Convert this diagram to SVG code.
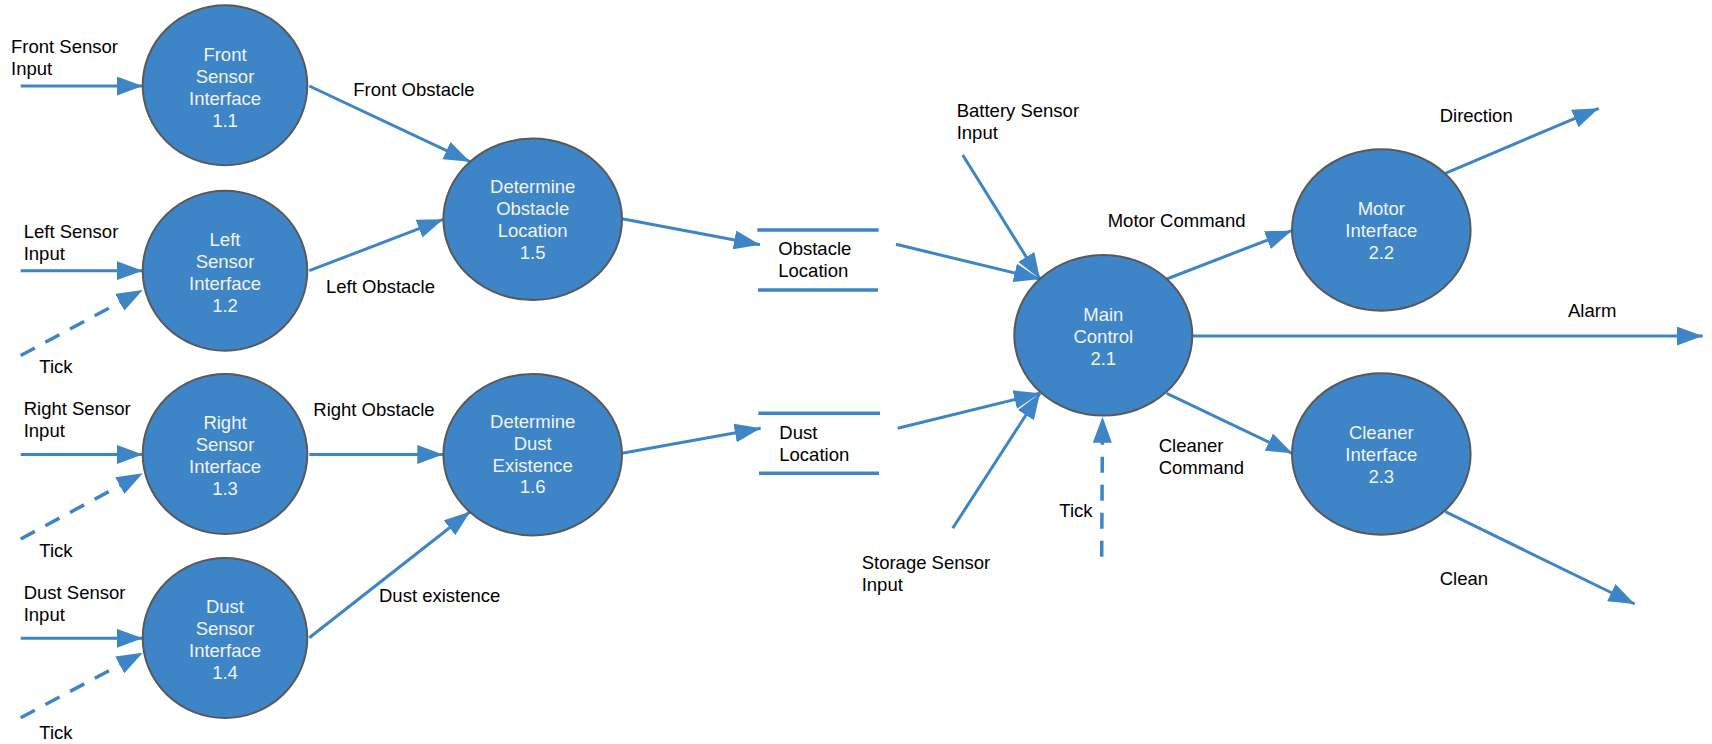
<svg xmlns="http://www.w3.org/2000/svg" width="1712" height="744" viewBox="0 0 1712 744">
<style>
.bubble{fill:#3d85c6;stroke:#595959;stroke-width:2}
.nt{fill:#f3f3f3;font-family:"Liberation Sans",Arial,sans-serif;font-size:18.5px;text-anchor:middle}
.lb{fill:#000;font-family:"Liberation Sans",Arial,sans-serif;font-size:18.5px}
.flow{fill:none;stroke:#3d85c6;stroke-width:3;marker-end:url(#ah)}
.dash{stroke-width:3.5;stroke-dasharray:16 12}
.store{stroke:#3d85c6;stroke-width:3.5}
</style>
<defs>
<marker id="ah" markerUnits="userSpaceOnUse" markerWidth="26" markerHeight="19" refX="26" refY="9.5" orient="auto">
<path d="M0,0 L26,9.5 L0,19 Z" fill="#3d85c6"/>
</marker>
</defs>
<rect width="1712" height="744" fill="#fff"/>

<g id="connectors">
<line class="flow" x1="20.7" y1="86" x2="142.7" y2="86"/>
<line class="flow" x1="20.7" y1="270.7" x2="142.7" y2="270.7"/>
<line class="flow dash" x1="20.7" y1="355.5" x2="142.7" y2="290"/>
<line class="flow" x1="20.7" y1="454.5" x2="142.7" y2="454.5"/>
<line class="flow dash" x1="20.7" y1="539" x2="142.7" y2="473.3"/>
<line class="flow" x1="20.7" y1="638.3" x2="142.7" y2="638.3"/>
<line class="flow dash" x1="20.7" y1="717.7" x2="142.7" y2="652.7"/>
<line class="flow" x1="309.3" y1="86" x2="470" y2="161.7"/>
<line class="flow" x1="309.3" y1="270.7" x2="443.3" y2="219.3"/>
<line class="flow" x1="309.3" y1="454.5" x2="443.3" y2="454.5"/>
<line class="flow" x1="309.3" y1="637.7" x2="470" y2="511.7"/>
<line class="flow" x1="622" y1="218.7" x2="760" y2="244.7"/>
<line class="flow" x1="622" y1="453.3" x2="760.7" y2="428.3"/>
<line class="flow" x1="896" y1="244.3" x2="1040" y2="279"/>
<line class="flow" x1="962.7" y1="155" x2="1040" y2="279"/>
<line class="flow" x1="897.7" y1="428.3" x2="1040" y2="393.3"/>
<line class="flow" x1="952.7" y1="528.3" x2="1040" y2="393.3"/>
<line class="flow dash" x1="1101.7" y1="556.7" x2="1102.5" y2="416.7"/>
<line class="flow" x1="1166.7" y1="279" x2="1291.7" y2="230.7"/>
<line class="flow" x1="1192.3" y1="336" x2="1702.7" y2="336"/>
<line class="flow" x1="1166.7" y1="393.3" x2="1292.3" y2="453.3"/>
<line class="flow" x1="1445.3" y1="173.3" x2="1598.7" y2="108.3"/>
<line class="flow" x1="1445.3" y1="511.7" x2="1634.7" y2="604"/>
</g>

<g id="labels">
<text class="lb" x="11" y="52.7">Front Sensor</text>
<text class="lb" x="11" y="75">Input</text>
<text class="lb" x="23.7" y="237.7">Left Sensor</text>
<text class="lb" x="23.7" y="260">Input</text>
<text class="lb" x="39.3" y="372.7">Tick</text>
<text class="lb" x="23.7" y="414.5">Right Sensor</text>
<text class="lb" x="23.7" y="436.7">Input</text>
<text class="lb" x="39.3" y="556.7">Tick</text>
<text class="lb" x="23.7" y="599">Dust Sensor</text>
<text class="lb" x="23.7" y="621">Input</text>
<text class="lb" x="39.3" y="739.3">Tick</text>
<text class="lb" x="353.3" y="96">Front Obstacle</text>
<text class="lb" x="326" y="292.7">Left Obstacle</text>
<text class="lb" x="313.3" y="416">Right Obstacle</text>
<text class="lb" x="379" y="601.7">Dust existence</text>
<text class="lb" x="956.7" y="116.7">Battery Sensor</text>
<text class="lb" x="956.7" y="139.3">Input</text>
<text class="lb" x="1107.7" y="226.7">Motor Command</text>
<text class="lb" x="1439.7" y="121.7">Direction</text>
<text class="lb" x="1568" y="316.7">Alarm</text>
<text class="lb" x="1158.7" y="451.7">Cleaner</text>
<text class="lb" x="1158.7" y="474">Command</text>
<text class="lb" x="1059.3" y="516.7">Tick</text>
<text class="lb" x="861.7" y="569.3">Storage Sensor</text>
<text class="lb" x="861.7" y="590.7">Input</text>
<text class="lb" x="1439.7" y="585">Clean</text>
</g>

<g id="store-obstacle">
<line class="store" x1="757.3" y1="230" x2="878.7" y2="230"/>
<line class="store" x1="758" y1="290" x2="878" y2="290"/>
<text class="lb" x="778.3" y="255.3">Obstacle</text>
<text class="lb" x="778.3" y="276.7">Location</text>
</g>
<g id="store-dust">
<line class="store" x1="758.3" y1="413.3" x2="880" y2="413.3"/>
<line class="store" x1="759" y1="473.3" x2="879" y2="473.3"/>
<text class="lb" x="779.3" y="439.3">Dust</text>
<text class="lb" x="779.3" y="460.7">Location</text>
</g>

<g id="n11">
<ellipse class="bubble" cx="225" cy="85.3" rx="82.3" ry="80"/>
<text class="nt" x="225" y="60.7">Front</text>
<text class="nt" x="225" y="82.7">Sensor</text>
<text class="nt" x="225" y="104.7">Interface</text>
<text class="nt" x="225" y="126.7">1.1</text>
</g>
<g id="n12">
<ellipse class="bubble" cx="225" cy="270.7" rx="82.3" ry="80"/>
<text class="nt" x="225" y="246">Left</text>
<text class="nt" x="225" y="268">Sensor</text>
<text class="nt" x="225" y="290">Interface</text>
<text class="nt" x="225" y="312">1.2</text>
</g>
<g id="n13">
<ellipse class="bubble" cx="225" cy="454" rx="82.3" ry="80"/>
<text class="nt" x="225" y="429">Right</text>
<text class="nt" x="225" y="451">Sensor</text>
<text class="nt" x="225" y="473">Interface</text>
<text class="nt" x="225" y="494.5">1.3</text>
</g>
<g id="n14">
<ellipse class="bubble" cx="225" cy="638" rx="82.3" ry="80"/>
<text class="nt" x="225" y="612.7">Dust</text>
<text class="nt" x="225" y="634.7">Sensor</text>
<text class="nt" x="225" y="656.7">Interface</text>
<text class="nt" x="225" y="678.7">1.4</text>
</g>
<g id="n15">
<ellipse class="bubble" cx="532.7" cy="219.3" rx="89.3" ry="80.7"/>
<text class="nt" x="532.7" y="193.3">Determine</text>
<text class="nt" x="532.7" y="215.3">Obstacle</text>
<text class="nt" x="532.7" y="237.3">Location</text>
<text class="nt" x="532.7" y="259">1.5</text>
</g>
<g id="n16">
<ellipse class="bubble" cx="532.7" cy="454.7" rx="89.3" ry="80.7"/>
<text class="nt" x="532.7" y="427.5">Determine</text>
<text class="nt" x="532.7" y="449.5">Dust</text>
<text class="nt" x="532.7" y="471.5">Existence</text>
<text class="nt" x="532.7" y="493.3">1.6</text>
</g>
<g id="n21">
<ellipse class="bubble" cx="1103.3" cy="335.3" rx="89" ry="80.3"/>
<text class="nt" x="1103.3" y="320.7">Main</text>
<text class="nt" x="1103.3" y="342.7">Control</text>
<text class="nt" x="1103.3" y="365">2.1</text>
</g>
<g id="n22">
<ellipse class="bubble" cx="1381.3" cy="230" rx="89.3" ry="80.7"/>
<text class="nt" x="1381.3" y="215.3">Motor</text>
<text class="nt" x="1381.3" y="237.3">Interface</text>
<text class="nt" x="1381.3" y="259.3">2.2</text>
</g>
<g id="n23">
<ellipse class="bubble" cx="1381.3" cy="454" rx="89.3" ry="80.7"/>
<text class="nt" x="1381.3" y="438.7">Cleaner</text>
<text class="nt" x="1381.3" y="460.7">Interface</text>
<text class="nt" x="1381.3" y="482.7">2.3</text>
</g>
</svg>
